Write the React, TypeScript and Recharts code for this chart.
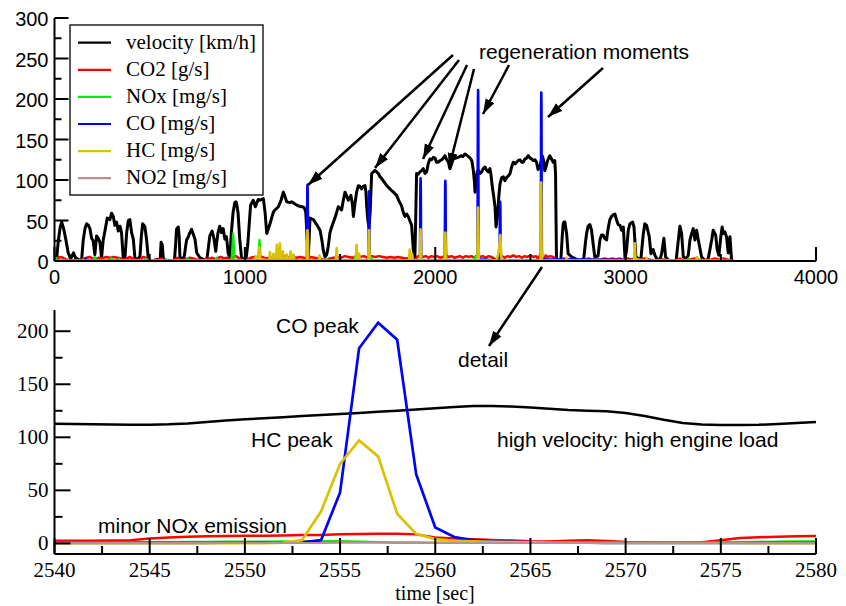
import React from 'react';
import { LineChart, Line, XAxis, YAxis } from 'recharts';

const SANS = '"Liberation Sans", Arial, Helvetica, sans-serif';
const SERIF = '"Liberation Serif", "Times New Roman", Times, serif';

type Pt = [number, number];

// ---------- overview (top panel) ----------
const velocityTop: Pt[] = [
  [0, 0], [10, 0], [20, 25], [30, 42], [38, 48], [48, 40], [60, 26], [72, 10], [85, 3], [100, 10], [110, 4], [125, 2], [142, 0],
  [151, 26], [160, 40], [169, 46], [178, 44], [186, 40], [195, 28], [203, 25], [212, 8], [221, 31], [230, 28], [239, 23], [247, 4],
  [256, 26], [265, 37], [277, 53], [291, 51], [300, 59], [309, 55], [317, 44], [326, 48], [335, 37], [344, 43], [352, 35], [361, 4],
  [370, 3], [379, 35], [388, 50], [396, 51], [405, 35], [414, 27], [423, 2], [440, 3], [449, 6], [456, 30], [463, 46], [470, 44],
  [475, 42], [484, 26], [493, 2], [510, 0], [540, 2], [555, 1], [560, 23], [566, 20], [572, 2], [600, 0], [630, 0], [636, 20],
  [641, 39], [650, 42], [655, 30], [659, 4], [680, 3], [690, 20], [694, 26], [703, 30], [711, 35], [720, 39], [729, 33], [738, 27],
  [747, 10], [764, 4], [781, 2], [800, 1], [810, 20], [816, 31], [828, 37], [838, 27], [847, 12], [853, 25], [859, 35], [868, 43],
  [877, 35], [886, 40], [895, 27], [903, 30], [908, 20], [912, 10], [921, 4], [929, 35], [938, 60], [947, 72], [952, 73], [956, 72],
  [964, 60], [973, 27], [982, 5], [995, 1], [1005, 0], [1015, 20], [1030, 69], [1044, 75], [1055, 67], [1070, 76], [1080, 75],
  [1097, 77], [1106, 60], [1115, 34], [1132, 46], [1149, 60], [1158, 63], [1176, 67], [1190, 75], [1202, 85], [1210, 80], [1220, 73],
  [1235, 72], [1246, 73], [1265, 70], [1281, 68], [1300, 67], [1312, 66], [1320, 60], [1325, 38], [1333, 5], [1338, 30], [1342, 53],
  [1350, 52], [1360, 51], [1377, 45], [1395, 38], [1405, 25], [1412, 13], [1421, 5], [1430, 8], [1438, 18], [1447, 35], [1456, 42],
  [1473, 53], [1482, 60], [1491, 67], [1500, 65], [1508, 63], [1517, 75], [1526, 85], [1535, 80], [1543, 75], [1557, 81], [1565, 70],
  [1570, 55], [1578, 71], [1587, 85], [1596, 93], [1605, 92], [1613, 89], [1622, 92], [1631, 93], [1636, 85], [1640, 67], [1646, 50],
  [1652, 42], [1658, 60], [1666, 108], [1675, 110], [1683, 112], [1692, 110], [1701, 108], [1710, 104], [1718, 102], [1730, 98],
  [1745, 93], [1758, 90], [1771, 87], [1785, 84], [1797, 81], [1810, 74], [1823, 68], [1832, 60], [1841, 55], [1850, 58], [1858, 55],
  [1866, 50], [1876, 44], [1880, 30], [1885, 13], [1893, 4], [1898, 60], [1902, 108], [1910, 107], [1920, 110], [1930, 112],
  [1937, 114], [1946, 108], [1955, 110], [1963, 120], [1972, 126], [1981, 125], [1990, 128], [1999, 127], [2007, 122], [2016, 122],
  [2025, 124], [2034, 125], [2042, 127], [2051, 130], [2060, 125], [2069, 122], [2077, 114], [2086, 120], [2095, 126], [2108, 127],
  [2121, 128], [2135, 130], [2145, 129], [2156, 132], [2170, 130], [2183, 127], [2192, 124], [2200, 112], [2205, 100], [2209, 85],
  [2215, 100], [2220, 110], [2226, 112], [2235, 108], [2244, 110], [2252, 114], [2261, 116], [2270, 112], [2279, 110], [2287, 114],
  [2292, 108], [2300, 91], [2307, 80], [2314, 67], [2319, 42], [2324, 50], [2328, 58], [2334, 80], [2340, 95], [2349, 103],
  [2358, 104], [2366, 99], [2375, 103], [2384, 105], [2393, 108], [2400, 115], [2410, 122], [2420, 120], [2436, 124], [2445, 125],
  [2454, 122], [2462, 122], [2471, 126], [2480, 127], [2489, 130], [2498, 127], [2506, 126], [2515, 124], [2524, 125], [2532, 122],
  [2540, 113], [2550, 117], [2560, 127.5], [2563, 129.5], [2570, 123], [2575, 111.5], [2580, 114.5], [2590, 124], [2602, 130],
  [2611, 126], [2620, 122], [2628, 124], [2632, 107], [2635, 40], [2637, 0], [2650, 0], [2660, 2], [2667, 30], [2672, 46], [2676, 48],
  [2681, 48], [2690, 34], [2698, 9], [2716, 5], [2742, 2], [2760, 0], [2780, 3], [2790, 25], [2795, 34], [2803, 43], [2812, 45],
  [2821, 38], [2830, 20], [2838, 5], [2855, 6], [2865, 26], [2873, 32], [2882, 32], [2890, 28], [2900, 26], [2908, 40], [2917, 51],
  [2926, 55], [2935, 57], [2944, 58], [2952, 51], [2961, 45], [2970, 44], [2979, 38], [2988, 42], [2997, 3], [3005, 14], [3014, 38],
  [3023, 46], [3037, 48], [3044, 42], [3054, 5], [3067, 3], [3080, 2], [3093, 34], [3101, 46], [3110, 44], [3124, 30], [3133, 9],
  [3145, 14], [3154, 7], [3163, 3], [3180, 1], [3189, 9], [3201, 28], [3210, 5], [3230, 0], [3265, 0], [3277, 26], [3285, 43],
  [3294, 34], [3303, 5], [3320, 3], [3329, 7], [3338, 26], [3347, 34], [3355, 40], [3364, 26], [3373, 38], [3382, 26], [3390, 16],
  [3399, 5], [3420, 0], [3434, 3], [3452, 26], [3460, 38], [3473, 32], [3481, 14], [3490, 7], [3500, 30], [3507, 42], [3513, 34],
  [3521, 36], [3530, 30], [3539, 10], [3548, 30], [3556, 3], [3560, 0],
];

const co2Top: Pt[] = [
  [0, 1], [15, 3], [30, 5], [45, 4], [60, 2], [90, 1], [140, 1], [155, 3], [170, 4], [185, 5], [200, 3], [215, 2], [230, 4],
  [250, 3], [270, 5], [290, 4], [310, 5], [330, 4], [350, 3], [365, 1], [380, 3], [395, 5], [410, 3], [425, 1], [450, 2], [465, 5],
  [480, 4], [495, 1], [540, 1], [563, 3], [575, 1], [630, 1], [645, 4], [660, 1], [690, 2], [710, 4], [730, 3], [745, 2], [780, 1],
  [815, 3], [830, 4], [845, 2], [860, 4], [875, 5], [890, 3], [905, 4], [920, 2], [940, 5], [955, 6], [970, 3], [990, 1], [1010, 1],
  [1030, 4], [1050, 5], [1070, 4], [1090, 5], [1110, 3], [1130, 4], [1150, 5], [1170, 4], [1190, 5], [1210, 6], [1230, 4],
  [1250, 5], [1270, 4], [1290, 5], [1310, 4], [1332, 2], [1345, 5], [1365, 4], [1385, 3], [1410, 2], [1425, 1], [1445, 3],
  [1465, 4], [1485, 5], [1505, 4], [1525, 6], [1545, 5], [1565, 4], [1585, 6], [1605, 5], [1625, 6], [1645, 4], [1665, 6],
  [1685, 5], [1705, 6], [1725, 5], [1745, 4], [1765, 5], [1785, 4], [1805, 5], [1825, 4], [1845, 3], [1865, 4], [1885, 2],
  [1895, 1], [1905, 5], [1920, 7], [1935, 5], [1950, 6], [1965, 4], [1980, 6], [1995, 5], [2010, 6], [2025, 4], [2040, 5],
  [2055, 7], [2070, 5], [2085, 6], [2100, 4], [2115, 5], [2130, 6], [2145, 4], [2160, 6], [2175, 5], [2190, 6], [2205, 4],
  [2220, 7], [2235, 5], [2250, 6], [2265, 4], [2280, 6], [2295, 5], [2310, 3], [2320, 2], [2335, 5], [2350, 6], [2365, 4],
  [2380, 6], [2395, 5], [2410, 7], [2425, 5], [2440, 6], [2455, 4], [2470, 6], [2485, 5], [2500, 7], [2515, 5], [2530, 6],
  [2540, 2.5], [2545, 4.5], [2550, 7.2], [2557, 9], [2560, 5.5], [2565, 2.2], [2570, 1.2], [2575, 3], [2580, 7], [2590, 5],
  [2605, 6], [2620, 5], [2632, 3], [2640, 1], [2665, 2], [2675, 3], [2690, 2], [2720, 1], [2760, 1], [2790, 2], [2805, 3],
  [2820, 2], [2840, 1], [2870, 2], [2890, 3], [2910, 2], [2930, 3], [2950, 2], [2970, 3], [2990, 1], [3010, 3], [3030, 2],
  [3050, 3], [3070, 1], [3100, 3], [3120, 2], [3140, 1], [3160, 1], [3200, 2], [3220, 1], [3270, 1], [3285, 3], [3300, 1],
  [3340, 2], [3360, 3], [3380, 2], [3400, 1], [3450, 2], [3470, 3], [3490, 2], [3510, 3], [3530, 2], [3550, 1], [3560, 0],
];

const noxTop: Pt[] = [
  [0, 0.5], [8, 4], [14, 0.5], [150, 0.5], [158, 3], [166, 0.5], [205, 0.5], [212, 5], [219, 0.5], [290, 0.5], [298, 4],
  [306, 0.5], [330, 0.5], [338, 3], [346, 0.5], [470, 0.5], [478, 3], [486, 0.5], [690, 0.5], [700, 3], [710, 0.5], [845, 0.5],
  [852, 4], [860, 0.5], [930, 0.5], [935, 20], [938, 34], [942, 20], [946, 1], [1070, 1], [1074, 18], [1077, 26], [1080, 15],
  [1084, 1], [1425, 0.5], [1430, 3], [1435, 0.5], [1573, 0.5], [1578, 5], [1583, 0.5], [1660, 0.5], [1666, 4], [1672, 0.5],
  [2204, 0.5], [2209, 5], [2214, 0.5], [2795, 0.5], [2800, 3], [2805, 0.5], [3045, 0.5], [3052, 3], [3058, 0.5], [3325, 0.5],
  [3330, 3], [3335, 0.5], [3560, 0],
];

const coTop: Pt[] = [
  [0, 0.3], [160, 0.3], [163, 3], [166, 0.3], [1322, 0.5], [1326, 2], [1327, 45], [1328, 88], [1329, 94], [1330, 85], [1331, 40],
  [1333, 1], [1645, 0.5], [1649, 2], [1650, 40], [1651, 80], [1652, 86], [1653, 78], [1654, 35], [1656, 1], [1916, 0.5],
  [1920, 2], [1921, 48], [1922, 95], [1923, 102], [1924, 92], [1925, 42], [1927, 1], [2046, 0.5], [2050, 2], [2051, 46],
  [2052, 92], [2053, 99], [2054, 90], [2055, 40], [2057, 1], [2219, 0.5], [2222, 3], [2223, 90], [2224, 190], [2225, 211],
  [2226, 195], [2227, 70], [2229, 2], [2335, 0.5], [2338, 2], [2339, 35], [2340, 68], [2341, 73], [2342, 66], [2343, 30],
  [2345, 1], [2553, 1], [2554, 3], [2555, 48], [2556, 184], [2557, 208], [2558, 192], [2559, 65], [2560, 15], [2561, 6],
  [2563, 2], [3560, 0.3],
];

const hcTop: Pt[] = [
  [0, 0.2], [1050, 0.2], [1058, 6], [1062, 0.5], [1072, 2], [1076, 17], [1080, 2], [1128, 1], [1132, 11], [1136, 1], [1146, 1],
  [1150, 9], [1154, 1], [1164, 1], [1168, 20], [1172, 2], [1180, 2], [1184, 22], [1188, 3], [1196, 2], [1200, 12], [1204, 1],
  [1215, 1], [1220, 8], [1225, 1], [1236, 1], [1240, 12], [1244, 1], [1252, 1], [1256, 8], [1260, 0.5], [1325, 0.5],
  [1327, 20], [1329, 38], [1331, 20], [1333, 0.5], [1388, 0.5], [1392, 7], [1396, 0.5], [1478, 0.5], [1482, 16], [1486, 0.5],
  [1583, 0.5], [1587, 20], [1591, 2], [1600, 9], [1604, 0.5], [1648, 0.5], [1650, 25], [1652, 38], [1654, 20], [1656, 0.5],
  [1862, 0.5], [1866, 14], [1870, 1], [1878, 9], [1882, 0.5], [1919, 0.5], [1921, 25], [1923, 39], [1925, 20], [1927, 0.5],
  [2049, 0.5], [2051, 22], [2053, 35], [2055, 18], [2057, 0.5], [2221, 0.5], [2223, 40], [2225, 66], [2227, 35], [2229, 0.5],
  [2322, 0.5], [2330, 8], [2338, 20], [2342, 32], [2345, 15], [2348, 0.5], [2552, 0.8], [2553, 3], [2554, 30], [2555, 75],
  [2556, 97], [2557, 82], [2558, 28], [2559, 9], [2561, 2], [2563, 0.5], [2686, 0.5], [2690, 4], [2694, 0.5], [3044, 0.5],
  [3048, 22], [3052, 2], [3106, 0.5], [3110, 4], [3114, 0.5], [3371, 0.5], [3375, 5], [3379, 0.5], [3496, 0.5], [3500, 4],
  [3504, 0.5], [3560, 0],
];

const no2Top: Pt[] = [[0, 0.3], [940, 1], [1080, 1], [2557, 0.5], [3560, 0.3]];

// ---------- detail (bottom panel) ----------
const detailTime = [
  2540, 2541, 2542, 2543, 2544, 2545, 2546, 2547, 2548, 2549, 2550, 2551, 2552, 2553, 2554, 2555, 2556, 2557, 2558, 2559, 2560,
  2561, 2562, 2563, 2564, 2565, 2566, 2567, 2568, 2569, 2570, 2571, 2572, 2573, 2574, 2575, 2576, 2577, 2578, 2579, 2580,
];
const detailVelocity = [
  112.7, 112.5, 112.3, 112, 111.8, 111.8, 112.2, 113, 114.5, 115.8, 117, 118, 119, 120, 121, 122, 123, 124, 125, 126.3, 127.5,
  128.5, 129.5, 129.5, 129, 128, 127, 125.8, 125, 124.5, 123, 120, 116.5, 113.5, 112, 111.5, 111.5, 111.8, 112.5, 113.5, 114.5,
];
const detailCO2 = [
  2.5, 2.5, 2.6, 2.8, 3.0, 4.5, 5.6, 6.2, 6.8, 7.0, 7.2, 7.3, 7.5, 7.8, 8.0, 8.5, 8.8, 9.0, 9.0, 8.5, 5.5,
  4.5, 3.8, 3.3, 2.8, 2.0, 1.8, 2.4, 3.0, 2.2, 1.2, 1.0, 0.8, 0.8, 1.0, 3.0, 5.0, 5.8, 6.3, 6.8, 7.0,
];
const detailNOx = [
  0.8, 0.9, 1, 1, 1.1, 1.2, 1.3, 1.4, 1.5, 1.6, 1.7, 1.8, 1.9, 2, 2.2, 2.2, 1.8, 1.3, 1, 0.9, 0.8,
  0.8, 0.7, 0.7, 0.6, 0.6, 0.5, 0.5, 0.5, 0.5, 0.4, 0.4, 0.4, 0.4, 0.5, 0.8, 1.2, 1.5, 1.8, 2, 2,
];
const detailCO = [
  0.5, 0.5, 0.5, 0.5, 0.5, 0.5, 0.5, 0.5, 0.5, 0.6, 0.6, 0.7, 0.8, 1, 3, 48, 184, 208, 192, 65, 15,
  6, 3, 2, 1.5, 1, 0.8, 0.7, 0.6, 0.5, 0.5, 0.5, 0.5, 0.5, 0.5, 0.5, 0.5, 0.5, 0.5, 0.5, 0.5,
];
const detailHC = [
  0.3, 0.3, 0.3, 0.3, 0.3, 0.3, 0.3, 0.3, 0.3, 0.3, 0.3, 0.3, 0.8, 3, 30, 75, 97, 82, 28, 9, 4,
  2.5, 2, 1.5, 1.2, 1, 0.8, 0.7, 0.6, 0.5, 0.5, 0.5, 0.4, 0.4, 0.4, 0.4, 0.4, 0.3, 0.3, 0.3, 0.3,
];
const detailNO2 = [
  0.3, 0.3, 0.3, 0.3, 0.3, 0.3, 0.3, 0.3, 0.3, 0.3, 0.3, 0.3, 0.3, 0.3, 0.4, 0.5, 0.5, 0.5, 0.4, 0.4, 0.3,
  0.3, 0.3, 0.3, 0.3, 0.3, 0.3, 0.3, 0.3, 0.3, 0.3, 0.3, 0.3, 0.3, 0.3, 0.3, 0.3, 0.3, 0.3, 0.3, 0.3,
];

// ---------- legend / ticks ----------
const seriesNames = ['velocity [km/h]', 'CO2 [g/s]', 'NOx [mg/s]', 'CO [mg/s]', 'HC [mg/s]', 'NO2 [mg/s]'];
const seriesColors = ['#000000', '#ff0000', '#00ee00', '#0000ff', '#dcc100', '#bc8f8f'];

const topXTicks = [0, 500, 1000, 1500, 2000, 2500, 3000, 3500, 4000];
const topXLabels = [0, 1000, 2000, 3000, 4000];
const topYTicks = [0, 25, 50, 75, 100, 125, 150, 175, 200, 225, 250, 275, 300];
const topYLabels = [0, 50, 100, 150, 200, 250, 300];
const botXTicks = [2540, 2542.5, 2545, 2547.5, 2550, 2552.5, 2555, 2557.5, 2560, 2562.5, 2565, 2567.5, 2570, 2572.5, 2575, 2577.5, 2580];
const botXLabels = [2540, 2545, 2550, 2555, 2560, 2565, 2570, 2575, 2580];
const botYTicks = [0, 25, 50, 75, 100, 125, 150, 175, 200];
const botYLabels = [0, 50, 100, 150, 200];

const toRows = (pts: Pt[]) => pts.map(([t, v]) => ({ t, v }));
const detailRows = (vals: number[]) => detailTime.map((t, i) => ({ t, v: vals[i] }));

type Side = 'left' | 'right' | 'top' | 'bottom';

function makeTick(side: Side, majors: number[], majorLen: number, minorLen: number, labels: number[] | null,
  serif: boolean, size: number, off: number) {
  const font = serif ? SERIF : SANS;
  return (props: any) => {
    const { x, y, payload } = props;
    const v = payload.value;
    const len = majors.includes(v) ? majorLen : minorLen;
    const show = labels && labels.includes(v);
    let ln: any = null;
    let tx: any = null;
    if (side === 'left') {
      ln = <line x1={x} y1={y} x2={x + len} y2={y} stroke="#000" strokeWidth={2} />;
      if (show) tx = <text x={x - 6} y={y + off} textAnchor="end" fill="#000" fontFamily={font} fontSize={size}>{String(v)}</text>;
    } else if (side === 'right') {
      ln = <line x1={x} y1={y} x2={x - len} y2={y} stroke="#000" strokeWidth={2} />;
    } else if (side === 'top') {
      ln = <line x1={x} y1={y} x2={x} y2={y + len} stroke="#000" strokeWidth={2} />;
    } else {
      ln = <line x1={x} y1={y} x2={x} y2={y - len} stroke="#000" strokeWidth={2} />;
      if (show) tx = <text x={x} y={y + off} textAnchor="middle" fill="#000" fontFamily={font} fontSize={size}>{String(v)}</text>;
    }
    return (
      <g>
        {ln}
        {tx}
      </g>
    );
  };
}

const topBottomTick = makeTick('bottom', [0, 1000, 2000, 3000, 4000], 14, 7, topXLabels, false, 20, 23);
const topTopTick = makeTick('top', [0, 1000, 2000, 3000, 4000], 14, 7, null, false, 20, 0);
const topLeftTick = makeTick('left', topYLabels, 14, 7, topYLabels, false, 20, 8);
const topRightTick = makeTick('right', topYLabels, 14, 7, null, false, 20, 0);
const botBottomTick = makeTick('bottom', botXLabels, 16, 8, botXLabels, true, 21, 23);
const botTopTick = makeTick('top', botXLabels, 16, 8, null, true, 21, 0);
const botLeftTick = makeTick('left', botYLabels, 16, 8, botYLabels, true, 21, 7);
const botRightTick = makeTick('right', botYLabels, 16, 8, null, true, 21, 0);

const axisLine = { stroke: '#000', strokeWidth: 2 };

export default function App() {
  const topSeries = [velocityTop, co2Top, noxTop, coTop, hcTop, no2Top];
  const topWidths = [3, 2.5, 2.2, 2.6, 2.6, 2];
  const botSeries = [detailVelocity, detailCO2, detailNOx, detailCO, detailHC, detailNO2];
  const botWidths = [2.5, 2.5, 2.2, 2.7, 2.7, 2];

  return (
    <div style={{ position: 'absolute', left: 0, top: 0, width: 846, height: 606, background: '#fff' }}>
      <div style={{ position: 'absolute', left: 0, top: 0 }}>
        <LineChart id="overview" width={846} height={300} margin={{ top: 18, right: 30, bottom: 0, left: 0 }}>
          {topSeries.map((s, i) => (
            <Line key={i} data={toRows(s)} dataKey="v" xAxisId="ob" yAxisId="ol" type="linear" stroke={seriesColors[i]}
              strokeWidth={topWidths[i]} strokeLinejoin="round" dot={false} activeDot={false} isAnimationActive={false} />
          ))}
          <XAxis xAxisId="ob" dataKey="t" type="number" domain={[0, 4000]} ticks={topXTicks} interval={0} allowDataOverflow
            height={39} tickSize={0} tickMargin={0} tickLine={false} axisLine={axisLine} tick={topBottomTick} />
          <XAxis xAxisId="ot" orientation="top" dataKey="t" type="number" domain={[0, 4000]} ticks={topXTicks} interval={0}
            allowDataOverflow height={0} tickSize={0} tickMargin={0} tickLine={false} axisLine={axisLine} tick={topTopTick} />
          <YAxis yAxisId="ol" type="number" domain={[0, 300]} ticks={topYTicks} interval={0} allowDataOverflow width={54.5}
            tickSize={0} tickMargin={0} tickLine={false} axisLine={axisLine} tick={topLeftTick} />
          <YAxis yAxisId="or" orientation="right" type="number" domain={[0, 300]} ticks={topYTicks} interval={0} allowDataOverflow
            width={0} tickSize={0} tickMargin={0} tickLine={false} axisLine={axisLine} tick={topRightTick} />
        </LineChart>
      </div>
      <div style={{ position: 'absolute', left: 0, top: 290 }}>
        <LineChart id="detail" width={846} height={316} margin={{ top: 20, right: 30, bottom: 0, left: 0 }}>
          {botSeries.map((s, i) => (
            <Line key={i} data={detailRows(s)} dataKey="v" xAxisId="db" yAxisId="dl" type="linear" stroke={seriesColors[i]}
              strokeWidth={botWidths[i]} dot={false} activeDot={false} isAnimationActive={false} />
          ))}
          <XAxis xAxisId="db" dataKey="t" type="number" domain={[2540, 2580]} ticks={botXTicks} interval={0} allowDataOverflow
            height={52} tickSize={0} tickMargin={0} tickLine={false} axisLine={axisLine} tick={botBottomTick} />
          <XAxis xAxisId="dt" orientation="top" dataKey="t" type="number" domain={[2540, 2580]} ticks={botXTicks} interval={0}
            allowDataOverflow height={0} tickSize={0} tickMargin={0} tickLine={false} axisLine={axisLine} tick={botTopTick} />
          <YAxis yAxisId="dl" type="number" domain={[-10, 220]} ticks={botYTicks} interval={0} allowDataOverflow width={54.5}
            tickSize={0} tickMargin={0} tickLine={false} axisLine={axisLine} tick={botLeftTick} />
          <YAxis yAxisId="dr" orientation="right" type="number" domain={[-10, 220]} ticks={botYTicks} interval={0} allowDataOverflow
            width={0} tickSize={0} tickMargin={0} tickLine={false} axisLine={axisLine} tick={botRightTick} />
        </LineChart>
      </div>
      <svg width={846} height={606} style={{ position: 'absolute', left: 0, top: 0, pointerEvents: 'none' }}>
        <defs>
          <marker id="ah" markerUnits="userSpaceOnUse" markerWidth={16} markerHeight={12} refX={15} refY={5} orient="auto">
            <path d="M0,0 L15,5 L0,10 z" fill="#000" />
          </marker>
        </defs>
        <rect x={70} y={25} width={193} height={170} fill="#fff" stroke="#000" strokeWidth={1.3} />
        {seriesNames.map((n, i) => (
          <g key={n}>
            <line x1={78} x2={111} y1={42.7 + i * 27.1} y2={42.7 + i * 27.1} stroke={seriesColors[i]} strokeWidth={2.2} />
            <text x={126} y={48.7 + i * 27.1} fontFamily={SERIF} fontSize={21} fill="#000">{n}</text>
          </g>
        ))}
        <g stroke="#000" strokeWidth={2.5}>
          <line x1={453} y1={55} x2={308} y2={185} markerEnd="url(#ah)" />
          <line x1={459} y1={60} x2={375} y2={168} markerEnd="url(#ah)" />
          <line x1={467} y1={65} x2={423} y2={159} markerEnd="url(#ah)" />
          <line x1={474} y1={69} x2={449} y2={168} markerEnd="url(#ah)" />
          <line x1={509} y1={65} x2={483} y2={114} markerEnd="url(#ah)" />
          <line x1={603} y1={68} x2={548} y2={117} markerEnd="url(#ah)" />
          <line x1={542} y1={267} x2={489} y2={346} markerEnd="url(#ah)" />
        </g>
        <g fontFamily={SANS} fontSize={21} fill="#000">
          <text x={479} y={58.5}>regeneration moments</text>
          <text x={276} y={333}>CO peak</text>
          <text x={251} y={447}>HC peak</text>
          <text x={458} y={367}>detail</text>
          <text x={497} y={447}>high velocity: high engine load</text>
          <text x={98} y={533}>minor NOx emission</text>
        </g>
        <text x={435} y={600} textAnchor="middle" fontFamily={SERIF} fontSize={20} fill="#000">time [sec]</text>
      </svg>
    </div>
  );
}
